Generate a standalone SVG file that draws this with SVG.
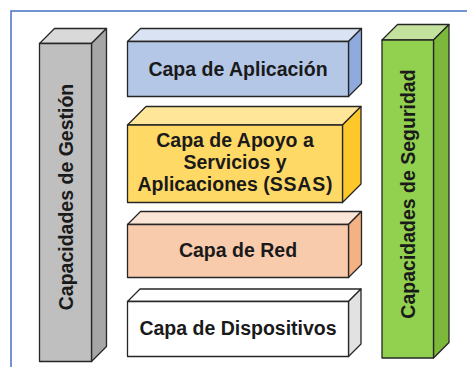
<svg xmlns="http://www.w3.org/2000/svg" width="467" height="367" viewBox="0 0 467 367">
<style>
.e{stroke:#262626;stroke-width:1.3;stroke-linejoin:round}
.t{font-family:"Liberation Sans",Arial,sans-serif;font-weight:bold;font-size:19.5px;fill:#1a1a1a;text-anchor:middle}
</style>
<rect width="467" height="367" fill="#ffffff"/>
<path d="M11,367 V11 H467" fill="none" stroke="#4472C4" stroke-width="1.5"/>
<g id="gestion">
<polygon class="e" points="39.5,43.5 54.5,28.5 106.5,28.5 91.5,43.5" fill="#D9D9D9"/>
<polygon class="e" points="91.5,43.5 106.5,28.5 106.5,346.5 91.5,361.5" fill="#A6A6A6"/>
<rect class="e" x="39.5" y="43.5" width="52" height="318" fill="#BFBFBF"/>
<text class="t" transform="translate(72.5,197) rotate(-90)">Capacidades de Gestión</text>
</g>
<g id="aplicacion">
<polygon class="e" points="127.5,41.5 140.5,28.5 361.5,28.5 348.5,41.5" fill="#DAE3F3"/>
<polygon class="e" points="348.5,41.5 361.5,28.5 361.5,83.5 348.5,96.5" fill="#8FAADC"/>
<rect class="e" x="127.5" y="41.5" width="221" height="55" fill="#B4C7E7"/>
<text class="t" x="238" y="75.5">Capa de Aplicación</text>
</g>
<g id="ssas">
<polygon class="e" points="127.5,125 146,106.5 361,106.5 342.5,125" fill="#FFE699"/>
<polygon class="e" points="342.5,125 361,106.5 361,184 342.5,202.5" fill="#FFC82A"/>
<rect class="e" x="127.5" y="125" width="215" height="77.5" fill="#FFD966"/>
<text class="t" x="235" y="146.5">Capa de Apoyo a</text>
<text class="t" x="235" y="168.5">Servicios y</text>
<text class="t" x="235" y="190.5">Aplicaciones (<tspan letter-spacing="0.8">SSAS</tspan>)</text>
</g>
<g id="red">
<polygon class="e" points="127.5,224.5 140.5,211.5 361.5,211.5 348.5,224.5" fill="#FBE5D6"/>
<polygon class="e" points="348.5,224.5 361.5,211.5 361.5,264.5 348.5,277.5" fill="#F4B183"/>
<rect class="e" x="127.5" y="224.5" width="221" height="53" fill="#F8CBAD"/>
<text class="t" x="238" y="256.5">Capa de Red</text>
</g>
<g id="dispositivos">
<polygon class="e" points="127.5,301.5 140,289 361,289 348.5,301.5" fill="#FFFFFF"/>
<polygon class="e" points="348.5,301.5 361,289 361,344 348.5,356.5" fill="#E2E2E2"/>
<rect class="e" x="127.5" y="301.5" width="221" height="55" fill="#FFFFFF"/>
<text class="t" x="238" y="335">Capa de Dispositivos</text>
</g>
<g id="seguridad">
<polygon class="e" points="382,40 397.5,24.5 449,24.5 433.5,40" fill="#C3E29E"/>
<polygon class="e" points="433.5,40 449,24.5 449,342.5 433.5,358" fill="#7CB93A"/>
<rect class="e" x="382" y="40" width="51.5" height="318" fill="#92D050"/>
<text class="t" transform="translate(414.5,194) rotate(-90)">Capacidades de Seguridad</text>
</g>
<g id="connectors"/>
</svg>
